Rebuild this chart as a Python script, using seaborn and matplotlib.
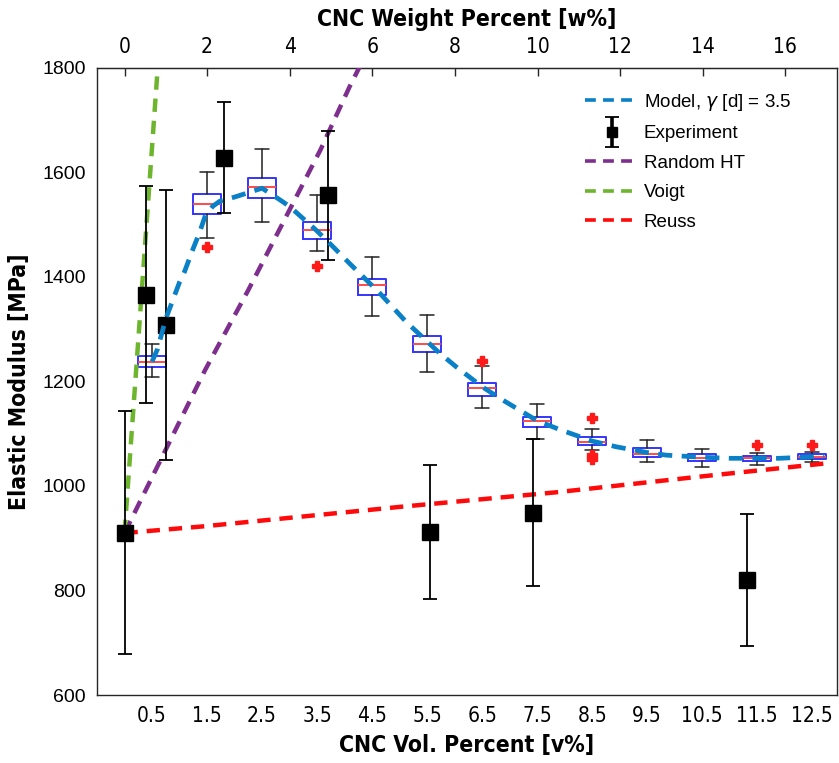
import matplotlib
matplotlib.use("Agg")
import matplotlib.pyplot as plt
import seaborn as sns
from matplotlib import font_manager as fm
from matplotlib.legend_handler import HandlerErrorbar

# ---------------- data ----------------
box_pos = [0.5, 1.5, 2.5, 3.5, 4.5, 5.5, 6.5, 7.5, 8.5, 9.5, 10.5, 11.5, 12.5]
box_labels = ["0.5", "1.5", "2.5", "3.5", "4.5", "5.5", "6.5", "7.5", "8.5",
              "9.5", "10.5", "11.5", "12.5"]
box_med = [1238, 1540, 1573, 1490, 1385, 1272, 1188, 1125, 1085, 1062, 1053, 1053, 1056]
box_q1 = [1228, 1520, 1552, 1472, 1365, 1256, 1173, 1113, 1078, 1055, 1047, 1048, 1051]
box_q3 = [1249, 1559, 1590, 1506, 1396, 1287, 1198, 1133, 1093, 1072, 1061, 1057, 1061]
box_wlo = [1209, 1474, 1505, 1450, 1325, 1219, 1149, 1089, 1069, 1046, 1036, 1040, 1046]
box_whi = [1272, 1600, 1645, 1557, 1439, 1327, 1230, 1157, 1110, 1088, 1070, 1064, 1066]
box_fliers = [[], [1458], [], [1422], [], [], [1240], [], [1130, 1059, 1052],
              [], [], [1078], [1078]]

exp_v = [0.0, 0.39, 0.75, 1.80, 3.69, 5.55, 7.42, 11.31]
exp_E = [911, 1366, 1308, 1628, 1556, 912, 949, 820]
exp_err = [233, 208, 259, 106, 124, 128, 140, 126]

model_v = [0.5, 0.6, 0.75, 1.0, 1.09, 1.25, 1.36, 1.47, 1.6, 1.73, 2.0, 2.21, 2.5,
           2.82, 3.0, 3.49, 3.79, 4.09, 4.64, 5.12, 5.73, 6.03, 6.5, 6.82, 7.5,
           7.91, 8.5, 8.94, 9.5, 9.85, 10.5, 11.0, 11.91, 12.72]
model_E = [1238, 1262, 1320, 1390, 1410, 1455, 1484, 1518, 1535, 1545, 1553, 1560, 1570,
           1548, 1535, 1489, 1458, 1426, 1369, 1314, 1254, 1228, 1190, 1168, 1125,
           1108, 1086, 1075, 1064, 1059, 1055, 1053, 1053, 1057]

ht_v = [0.0, 1.46, 2.25, 3.56, 4.09, 4.32]
ht_E = [910, 1221, 1375, 1643, 1764, 1812]

voigt_v = [0.0, 0.62]
voigt_E = [910, 1825]

reuss_v = [0.0, 1.46, 5.0, 7.85, 10.46, 12.72]
reuss_E = [910, 923, 960, 988, 1018, 1043]

top_ticks = [0, 2, 4, 6, 8, 10, 12, 14, 16]
W_PER_V = 1.332  # weight percent per volume percent (top axis scale)

# ---------------- styling ----------------
sns.set_style("white")
plt.rcParams["font.family"] = ["Liberation Sans", "DejaVu Sans"]
plt.rcParams["text.color"] = "black"
plt.rcParams["axes.labelcolor"] = "black"
plt.rcParams["xtick.color"] = "black"
plt.rcParams["ytick.color"] = "black"

# pick a condensed face if one is installed
names = {f.name for f in fm.fontManager.ttflist}
if "Liberation Sans Narrow" in names:
    NARROW = dict(family=["Liberation Sans Narrow", "Liberation Sans"])
elif "Arial Narrow" in names:
    NARROW = dict(family=["Arial Narrow", "Liberation Sans"])
elif any(f.name == "DejaVu Sans" and f.stretch == "condensed" for f in fm.fontManager.ttflist):
    NARROW = dict(family=["DejaVu Sans"], stretch="condensed")
else:
    NARROW = dict(family=["Liberation Sans", "DejaVu Sans"])

c_model = "#0A80C6"
c_ht = "#7E2F8E"
c_voigt = "#6DB52C"
c_reuss = "#FF0A0A"
dash = (0, (3, 2))

fig = plt.figure(figsize=(8.39, 7.63), dpi=100)
ax = fig.add_axes([97 / 839, 68 / 763, 740 / 839, 627 / 763])

# boxplots
stats = []
for i in range(len(box_pos)):
    stats.append(dict(med=box_med[i], q1=box_q1[i], q3=box_q3[i],
                      whislo=box_wlo[i], whishi=box_whi[i],
                      fliers=box_fliers[i], label=box_labels[i]))
ax.bxp(stats, positions=box_pos, widths=0.5, showfliers=True, manage_ticks=False,
       boxprops=dict(color="#3535FF", linewidth=1.4),
       medianprops=dict(color="#FF4A4A", linewidth=1.4),
       whiskerprops=dict(color="#222222", linewidth=1.1),
       capprops=dict(color="#222222", linewidth=1.1),
       flierprops=dict(marker="P", markerfacecolor="#FF1A1A", markeredgecolor="#FF1A1A",
                       markersize=7.5, linestyle="none"))

# lines
sns.lineplot(x=reuss_v, y=reuss_E, ax=ax, color=c_reuss, linewidth=3.2,
             linestyle=dash, estimator=None, sort=False, zorder=3)
sns.lineplot(x=ht_v, y=ht_E, ax=ax, color=c_ht, linewidth=3.2,
             linestyle=dash, estimator=None, sort=False, zorder=3)
sns.lineplot(x=voigt_v, y=voigt_E, ax=ax, color=c_voigt, linewidth=3.2,
             linestyle=dash, estimator=None, sort=False, zorder=3)

eb = ax.errorbar(exp_v, exp_E, yerr=exp_err, fmt="s", color="black",
                 markersize=11.5, elinewidth=1.3, capsize=5, capthick=1.3, zorder=4)

sns.lineplot(x=model_v, y=model_E, ax=ax, color=c_model, linewidth=3.4,
             linestyle=dash, estimator=None, sort=False, zorder=5)

lines = ax.get_lines()
h_reuss = [l for l in lines if l.get_color() == c_reuss][0]
h_ht = [l for l in lines if l.get_color() == c_ht][0]
h_voigt = [l for l in lines if l.get_color() == c_voigt][0]
h_model = [l for l in lines if l.get_color() == c_model][0]

ax.set_xlim(-0.5, 12.95)
ax.set_ylim(600, 1800)
ax.set_xticks(box_pos)
ax.set_xticklabels(box_labels, fontsize=15, **NARROW)
ax.set_yticks([600, 800, 1000, 1200, 1400, 1600, 1800])
ax.set_yticklabels(["600", "800", "1000", "1200", "1400", "1600", "1800"], fontsize=14)
ax.tick_params(direction="in", length=6, width=1, color="#262626", labelcolor="black",
               pad=8, top=False, right=False)
ax.set_xlabel("CNC Vol. Percent [v%]", fontsize=16.5, fontweight="bold",
              labelpad=6, color="black", **NARROW)
ax.set_ylabel("Elastic Modulus [MPa]", fontsize=16.5, fontweight="bold",
              labelpad=8, color="black", **NARROW)
for s in ax.spines.values():
    s.set_color("#262626")
    s.set_linewidth(1.0)

sec = ax.secondary_xaxis("top", functions=(lambda v: v * W_PER_V, lambda w: w / W_PER_V))
sec.set_xticks(top_ticks)
sec.set_xticklabels([str(t) for t in top_ticks], fontsize=15, **NARROW)
sec.tick_params(direction="in", length=6, width=1, color="#262626", labelcolor="black", pad=8)
sec.set_xlabel("CNC Weight Percent [w%]", fontsize=16.5, fontweight="bold",
               labelpad=8, color="black", **NARROW)
sec.spines["top"].set_color("#262626")

leg = ax.legend([h_model, eb, h_ht, h_voigt, h_reuss],
                ["Model, $\\gamma$ [d] = 3.5", "Experiment", "Random HT", "Voigt", "Reuss"],
                loc="upper left", bbox_to_anchor=(0.659, 0.962), frameon=False,
                fontsize=13.5, handlelength=2.9, handletextpad=0.25,
                labelspacing=0.66, borderpad=0, borderaxespad=0, markerscale=0.6,
                labelcolor="black",
                handler_map={type(eb): HandlerErrorbar(yerr_size=0.8)})
for h in leg.legend_handles:
    try:
        h.set_linewidth(2.6)
    except Exception:
        pass

fig.savefig("out.png", dpi=100)
